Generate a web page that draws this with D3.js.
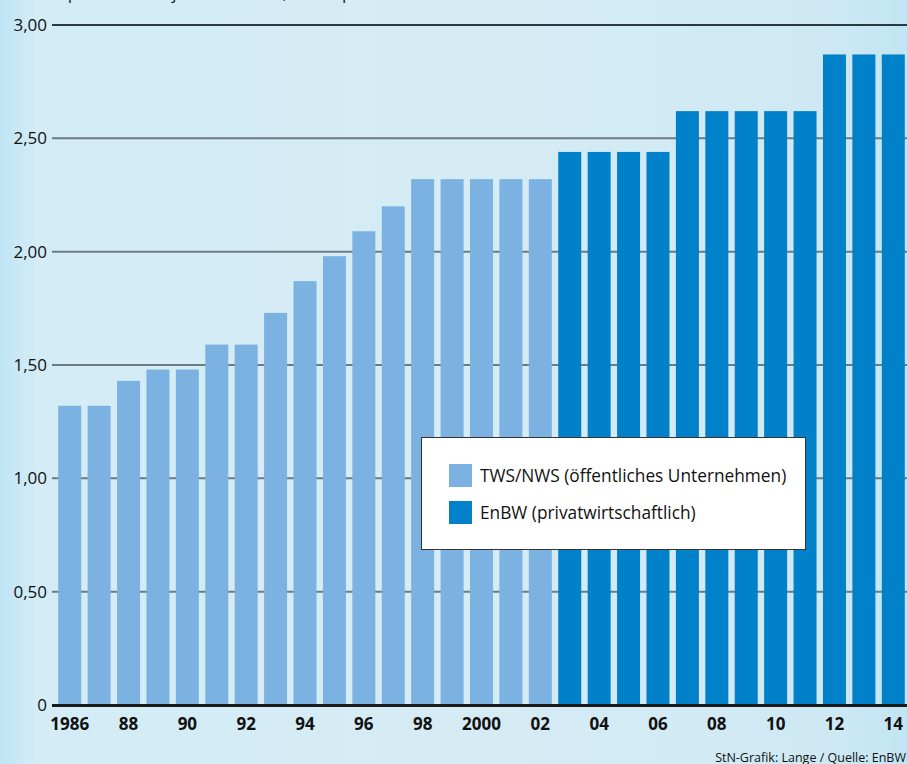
<!DOCTYPE html>
<html><head><meta charset="utf-8">
<script src="https://cdn.jsdelivr.net/npm/d3@7"></script>
<style>body{margin:0;padding:0;overflow:hidden}svg{display:block}</style>
</head><body>
<script>
const years = d3.range(1986, 2015);
const priceTWS = [1.32,1.32,1.43,1.48,1.48,1.59,1.59,1.73,1.87,1.98,2.09,2.20,2.32,2.32,2.32,2.32,2.32];
const priceEnBW = [2.44,2.44,2.44,2.44,2.62,2.62,2.62,2.62,2.62,2.87,2.87,2.87];
const yTicks = [0,0.5,1,1.5,2,2.5,3];
const yTickLabels = ["0","0,50","1,00","1,50","2,00","2,50","3,00"];
const xLabelYears = [1986,1988,1990,1992,1994,1996,1998,2000,2002,2004,2006,2008,2010,2012,2014];
const xLabels = ["1986","88","90","92","94","96","98","2000","02","04","06","08","10","12","14"];
const seriesNames = ["TWS/NWS (öffentliches Unternehmen)","EnBW (privatwirtschaftlich)"];
const colors = ["#7bb2e1","#0081c9"];
const title = "Wasserpreis in Euro je Kubikmeter, Grundpreis ohne Mehrwertsteuer";
const source = "StN-Grafik: Lange / Quelle: EnBW";

const data = years.map((y,i)=> i < priceTWS.length
  ? {year:y, value:priceTWS[i], s:0}
  : {year:y, value:priceEnBW[i-priceTWS.length], s:1});

const W=907,H=764;
const svg=d3.select("body").append("svg").attr("width",W).attr("height",H);
const defs=svg.append("defs");
const g1=defs.append("linearGradient").attr("id","bg").attr("x1","0").attr("x2","1").attr("y1","0").attr("y2","0");
g1.append("stop").attr("offset","0").attr("stop-color","#bfe5f5");
g1.append("stop").attr("offset","0.04").attr("stop-color","#d3ecf6");
g1.append("stop").attr("offset","0.5").attr("stop-color","#d6ecf5");
g1.append("stop").attr("offset","0.9").attr("stop-color","#cfe9f4");
g1.append("stop").attr("offset","1").attr("stop-color","#c2e5f3");
svg.append("rect").attr("width",W).attr("height",H).attr("fill","url(#bg)");

const font="'Open Sans', 'Noto Sans', sans-serif";
svg.append("text").attr("x",10).attr("y",-1).attr("font-family",font).attr("font-size",17)
  .attr("fill","#1a1a1a").text(title);

const x=d3.scaleBand().domain(years).range([55,908]).paddingInner(0.218).paddingOuter(0.109);
const y=d3.scaleLinear().domain([0,3]).range([705,25]);

// gridlines
const gl=svg.append("g");
yTicks.forEach((t,i)=>{
  if(t===0) return;
  gl.append("line").attr("x1",52).attr("x2",W).attr("y1",y(t)).attr("y2",y(t))
    .attr("stroke", t===3?"#2a3a44":"#6e7a82").attr("stroke-width",2);
});
// y labels
svg.append("g").selectAll("text").data(yTicks).join("text")
  .attr("x",47).attr("y",d=>y(d)+6).attr("text-anchor","end")
  .attr("font-family",font).attr("font-size",17).attr("fill","#111")
  .text((d,i)=>yTickLabels[i]);

// bars
svg.append("g").selectAll("rect").data(data).join("rect")
  .attr("x",d=>x(d.year)).attr("width",x.bandwidth())
  .attr("y",d=>y(d.value)).attr("height",d=>y(0)-y(d.value))
  .attr("fill",d=>colors[d.s]);

// baseline
svg.append("line").attr("x1",52).attr("x2",W).attr("y1",y(0)+0.5).attr("y2",y(0)+0.5)
  .attr("stroke","#1a1a1a").attr("stroke-width",3);

// x labels
svg.append("g").selectAll("text").data(xLabelYears).join("text")
  .attr("x",d=>x(d)+x.bandwidth()/2).attr("y",730).attr("text-anchor","middle")
  .attr("font-family",font).attr("font-weight","bold").attr("font-size",17).attr("fill","#111")
  .text((d,i)=>xLabels[i]);

// legend
const lg=svg.append("g");
lg.append("rect").attr("x",421.5).attr("y",437.5).attr("width",384).attr("height",112)
  .attr("fill","#fff").attr("stroke","#333").attr("stroke-width",1);
seriesNames.forEach((n,i)=>{
  lg.append("rect").attr("x",449).attr("y",464+i*37).attr("width",23).attr("height",23).attr("fill",colors[i]);
  lg.append("text").attr("x",480).attr("y",482+i*37).attr("font-family",font).attr("font-size",17.3)
    .attr("fill","#111").text(n);
});

svg.append("text").attr("x",906).attr("y",762).attr("text-anchor","end")
  .attr("font-family",font).attr("font-size",12.5).attr("fill","#111").text(source);
</script>
</body></html>
